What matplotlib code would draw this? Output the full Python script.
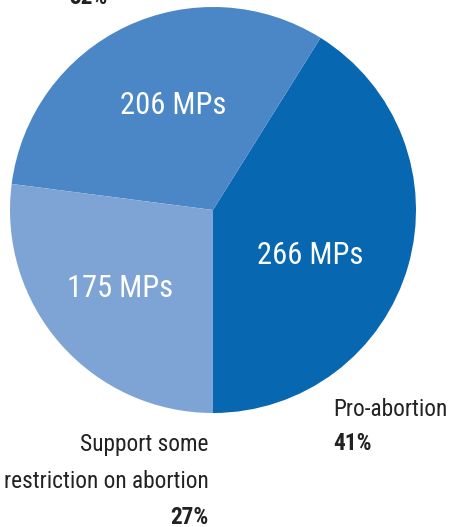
import matplotlib
matplotlib.use("Agg")
import matplotlib.pyplot as plt

categories = ["Pro-abortion", "Oppose", "Support some\nrestriction on abortion"]
mps = [266, 206, 175]
pcts = ["41%", "32%", "27%"]
colors = ["#0767b1", "#4b87c6", "#7ea4d6"]

plt.rcParams['font.family'] = ['Roboto Condensed', 'Liberation Sans Narrow', 'Roboto', 'DejaVu Sans']

W, H = 452, 527
fig = plt.figure(figsize=(W/100, H/100), dpi=100)
ax = fig.add_axes([0, 0, 1, 1])

cx, cy, r = 213, H - 210, 203
wedges, _ = ax.pie(mps, colors=colors, startangle=-90, counterclock=True,
                   radius=r, center=(cx, cy), frame=True,
                   wedgeprops=dict(linewidth=0))
ax.set_xlim(0, W)
ax.set_ylim(0, H)
ax.set_aspect('equal')
ax.axis('off')

# in-slice labels
pos = [(310, H - 255), (173, H - 105), (120, H - 288)]
for (x, y), v in zip(pos, mps):
    ax.text(x, y, f"{v} MPs", color="white", fontsize=22, ha="center", va="center")

fs = 16.8
# outside labels
ax.text(333, H - 410, categories[0], fontsize=fs, ha="left", va="center", color="#222222")
ax.text(333, H - 443, pcts[0], fontsize=fs, ha="left", va="center", color="#222222", fontweight="bold")

ax.text(209, H - 463, categories[2], fontsize=fs, ha="right", va="center", color="#222222",
        linespacing=1.78)
ax.text(209, H - 517, pcts[2], fontsize=fs, ha="right", va="center", color="#222222", fontweight="bold")

ax.text(108, H - 4, pcts[1], fontsize=fs, ha="right", va="baseline", color="#222222", fontweight="bold")

fig.savefig("out.png", dpi=100)
